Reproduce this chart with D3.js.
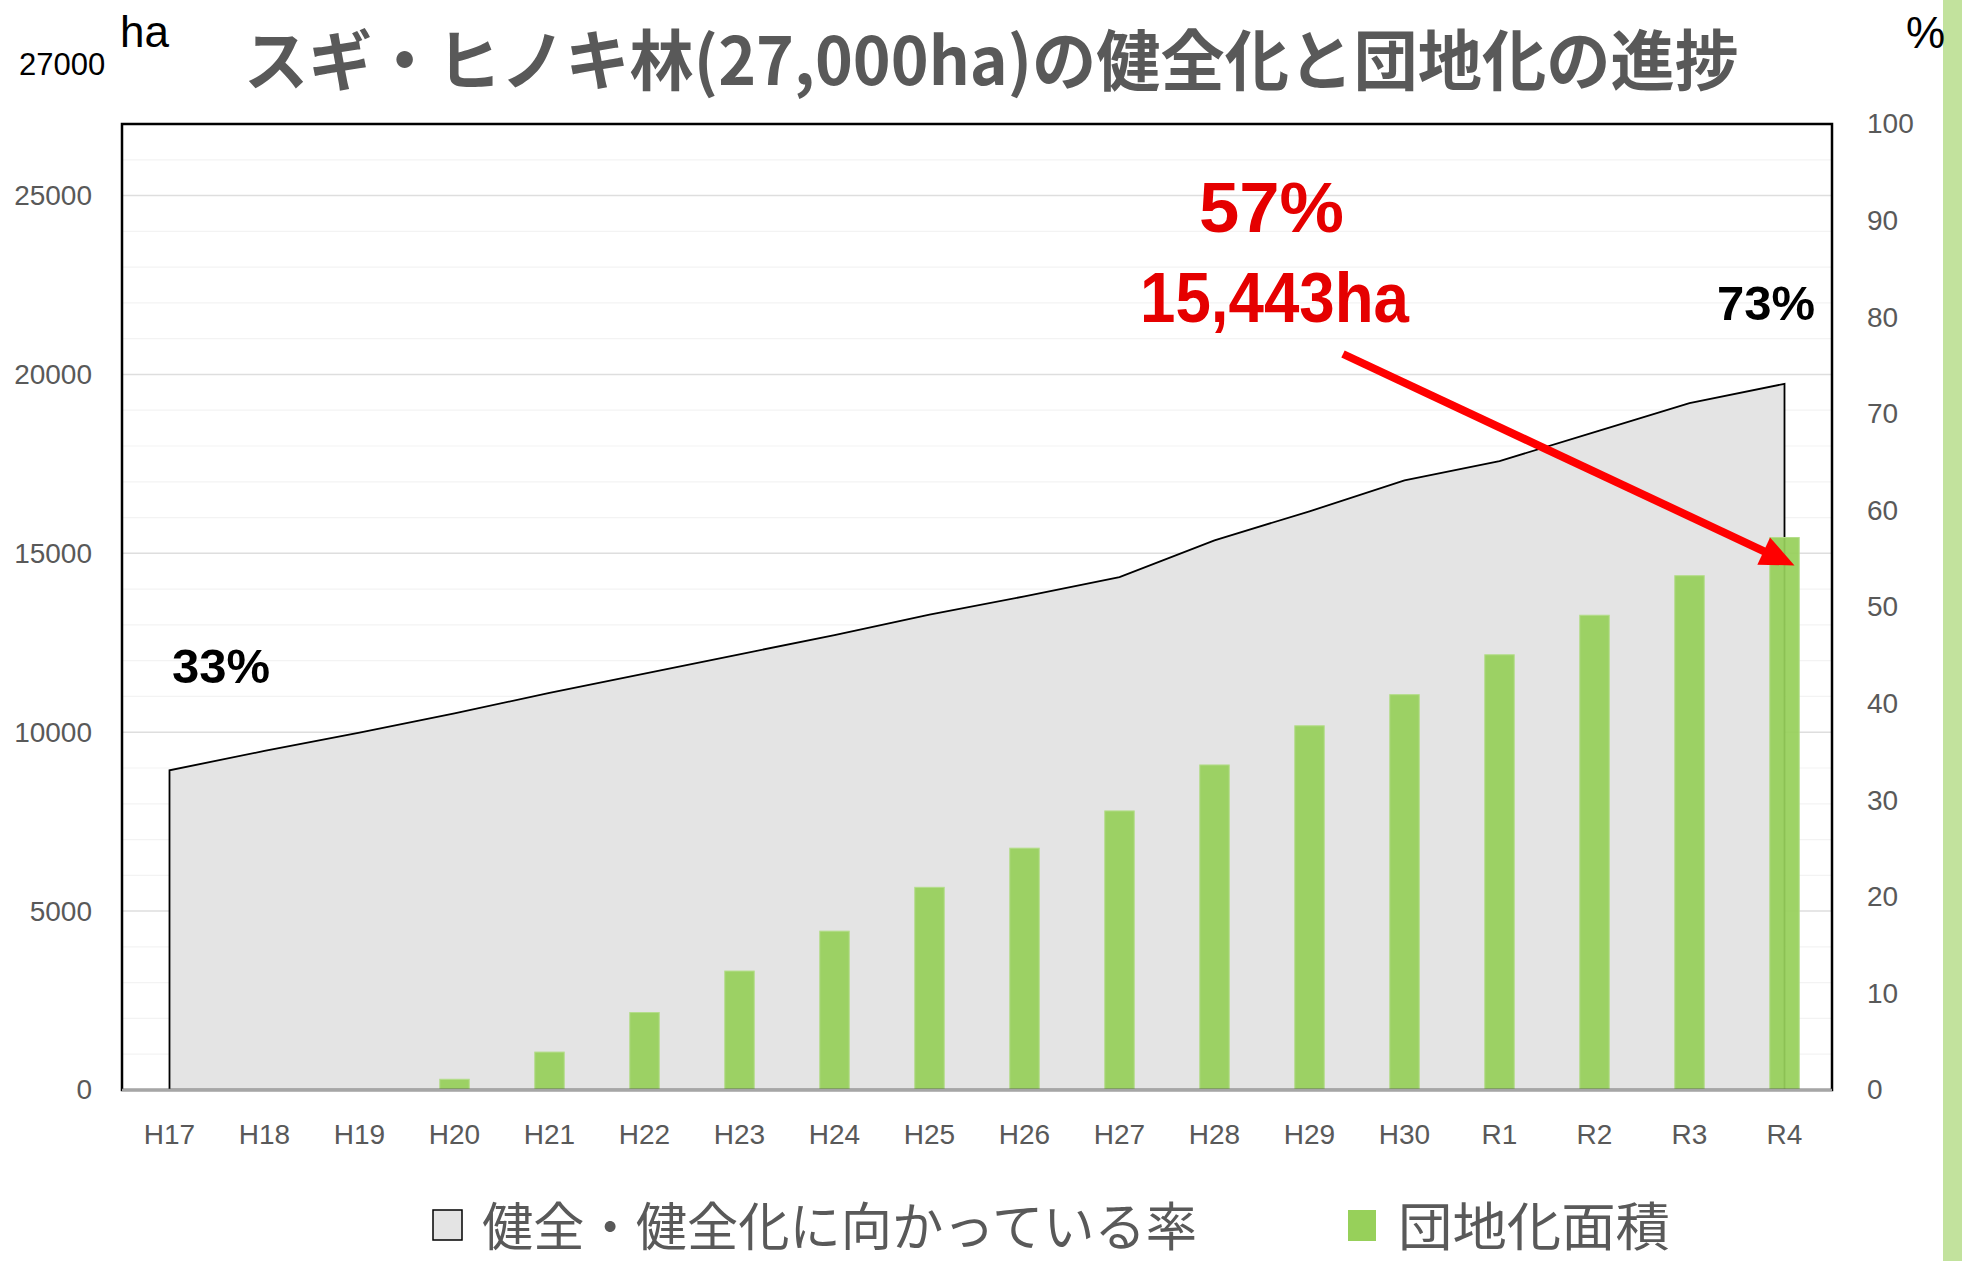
<!DOCTYPE html>
<html>
<head>
<meta charset="utf-8">
<script src="https://cdn.jsdelivr.net/npm/d3@7"></script>
<style>
  body { margin: 0; background: #fff; }
  text { font-family: "Liberation Sans", Arial, sans-serif; }
  .jp { font-family: "Noto Sans CJK JP", sans-serif; }
</style>
</head>
<body>
<div id="chart"></div>
<script>
// Years (Heisei 17 .. Reiwa 4)
const years = ["H17", "H18", "H19", "H20", "H21", "H22", "H23", "H24", "H25",
               "H26", "H27", "H28", "H29", "H30", "R1", "R2", "R3", "R4"];

// 健全・健全化に向かっている率 (%), right axis
const healthyRate = [33.1, 35.1, 37.0, 39.0, 41.1, 43.1, 45.1, 47.1, 49.2,
                     51.1, 53.1, 56.9, 59.9, 63.1, 65.1, 68.1, 71.1, 73.1];

// 団地化面積 (ha), left axis
const clusterArea = [0, 0, 0, 300, 1060, 2165, 3325, 4440, 5665,
                     6760, 7800, 9085, 10180, 11050, 12165, 13270, 14375, 15443];

const leftTicks = [0, 5000, 10000, 15000, 20000, 25000];
const rightTicks = [0, 10, 20, 30, 40, 50, 60, 70, 80, 90, 100];

const width = 1962;
const height = 1261;
const plot = { left: 122, right: 1832, top: 124, bottom: 1090 };

const svg = d3.select("#chart")
    .append("svg")
    .attr("width", width)
    .attr("height", height)
    .attr("viewBox", [0, 0, width, height]);

svg.append("rect").attr("width", width).attr("height", height).attr("fill", "#fff");

// green strip on the right edge of the slide
svg.append("rect")
    .attr("x", 1943).attr("y", 0)
    .attr("width", width - 1943).attr("height", height)
    .attr("fill", "#c2e29d");

// scales
const x = d3.scaleBand()
    .domain(years)
    .range([plot.left, plot.right])
    .padding(0);

const yLeft = d3.scaleLinear().domain([0, 27000]).range([plot.bottom, plot.top]);
const yRight = d3.scaleLinear().domain([0, 100]).range([plot.bottom, plot.top]);

const cx = d => x(d) + x.bandwidth() / 2;

// gridlines: faint every 1000ha, a bit stronger every 5000ha
const minor = d3.range(1000, 27000, 1000).filter(v => v % 5000 !== 0);
svg.append("g").selectAll("line")
    .data(minor)
    .join("line")
    .attr("x1", plot.left).attr("x2", plot.right)
    .attr("y1", d => yLeft(d)).attr("y2", d => yLeft(d))
    .attr("stroke", "#f3f3f3").attr("stroke-width", 1.2);

svg.append("g").selectAll("line")
    .data(leftTicks.filter(v => v > 0))
    .join("line")
    .attr("x1", plot.left).attr("x2", plot.right)
    .attr("y1", d => yLeft(d)).attr("y2", d => yLeft(d))
    .attr("stroke", "#dedede").attr("stroke-width", 1.5);

// area series (rate)
const rateData = years.map((y, i) => ({ year: y, v: healthyRate[i] }));
const area = d3.area()
    .x(d => cx(d.year))
    .y0(yRight(0))
    .y1(d => yRight(d.v));

svg.append("path")
    .datum(rateData)
    .attr("d", area)
    .attr("fill", "#e4e4e4");

// outline: up the left side, across the top, down the right side
const outline = [{ year: years[0], v: 0 }, ...rateData, { year: years[years.length - 1], v: 0 }];
svg.append("path")
    .datum(outline)
    .attr("d", d3.line().x(d => cx(d.year)).y(d => yRight(d.v)))
    .attr("fill", "none")
    .attr("stroke", "#000")
    .attr("stroke-width", 1.8);

// bars (cluster area)
const barW = x.bandwidth() * 0.31;
const barData = years.map((y, i) => ({ year: y, v: clusterArea[i] })).filter(d => d.v > 0);
svg.append("g").selectAll("rect")
    .data(barData)
    .join("rect")
    .attr("x", d => cx(d.year) - barW / 2)
    .attr("y", d => yLeft(d.v))
    .attr("width", barW)
    .attr("height", d => yLeft(0) - yLeft(d.v))
    .attr("fill", "#97d05a")
    .attr("fill-opacity", 0.93)
    .attr("stroke", "#b4dd8a")
    .attr("stroke-width", 1);

// plot frame
svg.append("rect")
    .attr("x", plot.left).attr("y", plot.top)
    .attr("width", plot.right - plot.left)
    .attr("height", plot.bottom - plot.top)
    .attr("fill", "none")
    .attr("stroke", "#000")
    .attr("stroke-width", 2.5);

svg.append("line")
    .attr("x1", plot.left).attr("x2", plot.right)
    .attr("y1", plot.bottom).attr("y2", plot.bottom)
    .attr("stroke", "#a6a6a6").attr("stroke-width", 2.5);

// axes
const styleAxis = g => {
    g.select(".domain").remove();
    g.selectAll("line").remove();
    g.selectAll("text")
        .attr("fill", "#595959")
        .style("font-size", "28px")
        .style("font-family", "'Liberation Sans', Arial, sans-serif");
};

svg.append("g")
    .attr("transform", `translate(${plot.left},0)`)
    .call(d3.axisLeft(yLeft).tickValues(leftTicks).tickFormat(d3.format("d")).tickSize(0).tickPadding(30))
    .call(styleAxis);

svg.append("g")
    .attr("transform", `translate(${plot.right},0)`)
    .call(d3.axisRight(yRight).tickValues(rightTicks).tickSize(0).tickPadding(35))
    .call(styleAxis);

svg.append("g")
    .attr("transform", `translate(0,${plot.bottom})`)
    .call(d3.axisBottom(x).tickSize(0).tickPadding(34))
    .call(styleAxis);

// title
svg.append("text")
    .attr("class", "jp")
    .attr("x", 244).attr("y", 85)
    .attr("textLength", 1495)
    .attr("lengthAdjust", "spacingAndGlyphs")
    .attr("fill", "#595959")
    .style("font-size", "66px")
    .style("font-weight", 700)
    .text("スギ・ヒノキ林(27,000ha)の健全化と団地化の進捗");

// unit labels
svg.append("text").attr("x", 120).attr("y", 47)
    .style("font-size", "44px").attr("fill", "#000").text("ha");
svg.append("text").attr("x", 19).attr("y", 75)
    .style("font-size", "31px").attr("fill", "#000").text("27000");
svg.append("text").attr("x", 1906).attr("y", 48)
    .style("font-size", "44px").attr("fill", "#000").text("%");

// annotations
svg.append("text").attr("x", 172).attr("y", 683)
    .style("font-size", "49px").style("font-weight", 700).attr("fill", "#000")
    .text("33%");
svg.append("text").attr("x", 1717).attr("y", 320)
    .style("font-size", "49px").style("font-weight", 700).attr("fill", "#000")
    .text("73%");
svg.append("text").attr("x", 1199).attr("y", 232)
    .attr("textLength", 145).attr("lengthAdjust", "spacingAndGlyphs")
    .style("font-size", "70px").style("font-weight", 700).attr("fill", "#e50000")
    .text("57%");
svg.append("text").attr("x", 1140).attr("y", 322)
    .attr("textLength", 269).attr("lengthAdjust", "spacingAndGlyphs")
    .style("font-size", "70px").style("font-weight", 700).attr("fill", "#e50000")
    .text("15,443ha");

// red arrow pointing at the R4 bar
const tip = [cx("R4") + 10, yLeft(clusterArea[17]) + 28];
const start = [1343, 354];
const dx = tip[0] - start[0], dy = tip[1] - start[1];
const len = Math.hypot(dx, dy);
const ux = dx / len, uy = dy / len;
const headL = 34, headW = 15;
const base = [tip[0] - ux * headL, tip[1] - uy * headL];
svg.append("line")
    .attr("x1", start[0]).attr("y1", start[1])
    .attr("x2", base[0] + ux * 4).attr("y2", base[1] + uy * 4)
    .attr("stroke", "#ff0000").attr("stroke-width", 8);
svg.append("polygon")
    .attr("points", [
        tip,
        [base[0] - uy * headW, base[1] + ux * headW],
        [base[0] + uy * headW, base[1] - ux * headW]
    ].map(p => p.join(",")).join(" "))
    .attr("fill", "#ff0000");

// legend
const legend = svg.append("g");
legend.append("rect")
    .attr("x", 433).attr("y", 1210).attr("width", 29).attr("height", 30)
    .attr("fill", "#e4e4e4").attr("stroke", "#000").attr("stroke-width", 1.5);
legend.append("text").attr("class", "jp")
    .attr("x", 482).attr("y", 1246)
    .attr("textLength", 715).attr("lengthAdjust", "spacingAndGlyphs")
    .attr("fill", "#595959").style("font-size", "52px")
    .text("健全・健全化に向かっている率");
legend.append("rect")
    .attr("x", 1348).attr("y", 1210).attr("width", 28).attr("height", 31)
    .attr("fill", "#97d05a");
legend.append("text").attr("class", "jp")
    .attr("x", 1398).attr("y", 1246)
    .attr("textLength", 272).attr("lengthAdjust", "spacingAndGlyphs")
    .attr("fill", "#595959").style("font-size", "52px")
    .text("団地化面積");
</script>
</body>
</html>
